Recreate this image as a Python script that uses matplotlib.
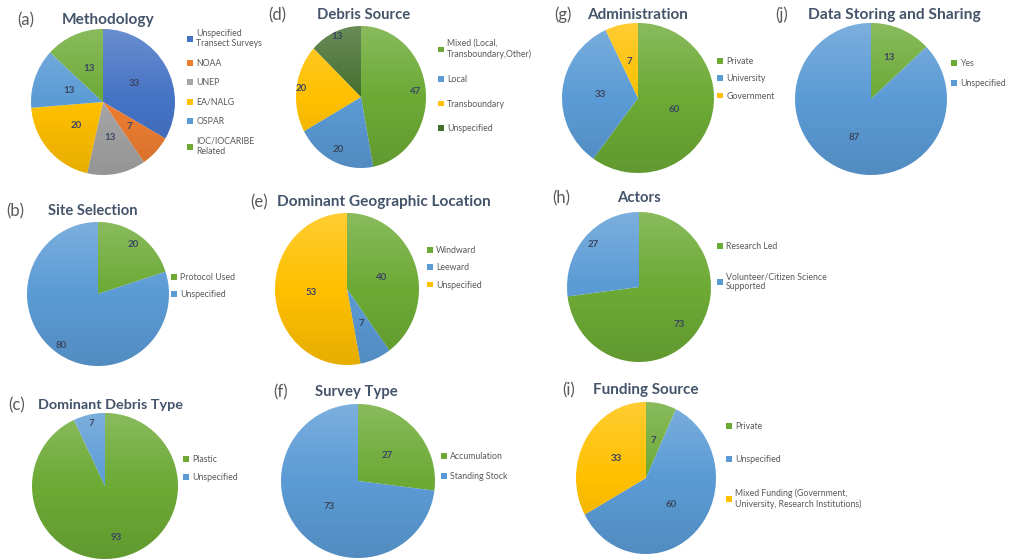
import numpy as np
import matplotlib
matplotlib.use('Agg')
import matplotlib.pyplot as plt
from matplotlib.patches import Ellipse

plt.rcParams['font.family'] = ['Lato', 'DejaVu Sans']

# %% data (percent of surveys)
methodology_labels = ['Unspecified\nTransect Surveys', 'NOAA', 'UNEP', 'EA/NALG', 'OSPAR', 'IOC/IOCARIBE\nRelated']
methodology_values = [33, 7, 13, 20, 13, 13]

site_labels = ['Protocol Used', 'Unspecified']
site_values = [20, 80]

debris_type_labels = ['Plastic', 'Unspecified']
debris_type_values = [93, 7]

source_labels = ['Mixed (Local,\nTransboundary,Other)', 'Local', 'Transboundary', 'Unspecified']
source_values = [47, 20, 20, 13]

location_labels = ['Windward', 'Leeward', 'Unspecified']
location_values = [40, 7, 53]

survey_labels = ['Accumulation', 'Standing Stock']
survey_values = [27, 73]

admin_labels = ['Private', 'University', 'Government']
admin_values = [60, 33, 7]

actors_labels = ['Research Led', 'Volunteer/Citizen Science\nSupported']
actors_values = [73, 27]

funding_labels = ['Private', 'Unspecified', 'Mixed Funding (Government,\nUniversity, Research Institutions)']
funding_values = [7, 60, 33]

sharing_labels = ['Yes', 'Unspecified']
sharing_values = [13, 87]

# %% colours
GREEN = '#6caa35'
BLUE = '#5b9bd5'
YELLOW = '#ffc000'
DKBLUE = '#4472c4'
ORANGE = '#ed7d31'
GREY = '#a5a5a5'
DKGREEN = '#446f2e'

TITLE_C = '#44546a'
LETTER_C = '#595959'
LEGEND_C = '#595959'
VALUE_C = '#3b4660'

W, H = 1009, 559
fig = plt.figure(figsize=(W / 100, H / 100), dpi=100)
fig.patch.set_facecolor('white')
renderer = fig.canvas.get_renderer()

# light-on-top shading like the office pies
shade = np.zeros((100, 1, 4))
t = np.linspace(0, 1, 100)
shade[:, 0, :3] = np.where(t < 0.5, 1.0, 0.0)[:, None]
shade[:, 0, 3] = np.where(t < 0.5, 0.2 * (1 - 2 * t), 0.1 * (2 * t - 1))


def fit_text(x0, x1, y, s, **kw):
    # put text between pixel x0..x1, scale font so it spans that width
    t = fig.text(x0 / W, 1 - y / H, s, ha='left', va='center', fontsize=10, **kw)
    w = t.get_window_extent(renderer).width
    t.set_fontsize(10 * (x1 - x0) / w)
    return t


def panel(letter, title, values, labels, colors, pie, dists, lg, ls, head):
    cx, cy, rx, ry = pie
    ax = fig.add_axes([(cx - rx) / W, 1 - (cy + ry) / H, 2 * rx / W, 2 * ry / H])
    wedges, _ = ax.pie(values, colors=colors, startangle=90, counterclock=False,
                       radius=1, wedgeprops=dict(linewidth=0))
    ax.set_aspect('auto')
    ax.set_xlim(-1, 1)
    ax.set_ylim(-1, 1)
    im = ax.imshow(shade, extent=(-1, 1, -1, 1), aspect='auto', zorder=3)
    clip = Ellipse((0, 0), 2, 2, transform=ax.transData)
    im.set_clip_path(clip)
    for w, v, d in zip(wedges, values, dists):
        a = np.deg2rad((w.theta1 + w.theta2) / 2)
        ax.text(d * np.cos(a), d * np.sin(a), str(v), ha='center', va='center',
                fontsize=7, fontweight='bold', color=VALUE_C, zorder=5)
    ax.legend(wedges, labels, loc='upper left', bbox_to_anchor=(lg[0] / W, 1 - lg[1] / H),
              bbox_transform=fig.transFigure, frameon=False, fontsize=6.3,
              handlelength=0.65, handleheight=0.65, handletextpad=0.4,
              labelspacing=ls, borderpad=0, borderaxespad=0, labelcolor=LEGEND_C)
    lx, tx0, tx1, ty = head
    fig.text(lx / W, 1 - ty / H, letter, ha='left', va='center', fontsize=12, color=LETTER_C)
    fit_text(tx0, tx1, ty, title, color=TITLE_C, fontweight='bold')


panel('(a)', 'Methodology', methodology_values, methodology_labels,
      [DKBLUE, ORANGE, GREY, YELLOW, BLUE, GREEN],
      (103, 102, 72, 73), [0.5] * 6, (187, 29), 1.2, (17, 62, 155, 20))

panel('(b)', 'Site Selection', site_values, site_labels, [GREEN, BLUE],
      (98, 294, 71, 72), [0.85, 0.88], (171, 273), 0.95, (6, 48, 138, 211))

panel('(c)', 'Dominant Debris Type', debris_type_values, debris_type_labels, [GREEN, BLUE],
      (105, 486, 73, 73), [0.72, 0.88], (183, 455), 1.05, (8, 38, 183, 405))

panel('(d)', 'Debris Source', source_values, source_labels, [GREEN, BLUE, YELLOW, DKGREEN],
      (361, 97, 65, 71), [0.84, 0.82, 0.93, 0.93], (438, 39), 1.8, (268, 317, 410, 15))

panel('(e)', 'Dominant Geographic Location', location_values, location_labels,
      [GREEN, BLUE, YELLOW],
      (347, 289, 72, 76), [0.5] * 3, (427, 246), 0.95, (250, 277, 490, 202))

panel('(f)', 'Survey Type', survey_values, survey_labels, [GREEN, BLUE],
      (358, 481, 77, 77), [0.5] * 2, (441, 452), 1.28, (273, 315, 398, 392))

panel('(g)', 'Administration', admin_values, admin_labels, [GREEN, BLUE, YELLOW],
      (638, 98, 76, 75), [0.5] * 3, (717, 57), 0.95, (554, 587, 688, 15))

panel('(h)', 'Actors', actors_values, actors_labels, [GREEN, BLUE],
      (639, 287, 72, 75), [0.75, 0.85], (717, 242), 2.4, (552, 617, 661, 198))

panel('(i)', 'Funding Source', funding_values, funding_labels, [GREEN, BLUE, YELLOW],
      (646, 478, 70, 76), [0.5] * 3, (726, 422), 2.75, (562, 593, 699, 390))

panel('(j)', 'Data Storing and Sharing', sharing_values, sharing_labels, [GREEN, BLUE],
      (871, 99, 76, 76), [0.6, 0.55], (951, 59), 1.28, (775, 808, 979, 15))

fig.savefig('out.png', dpi=100, facecolor='white')
